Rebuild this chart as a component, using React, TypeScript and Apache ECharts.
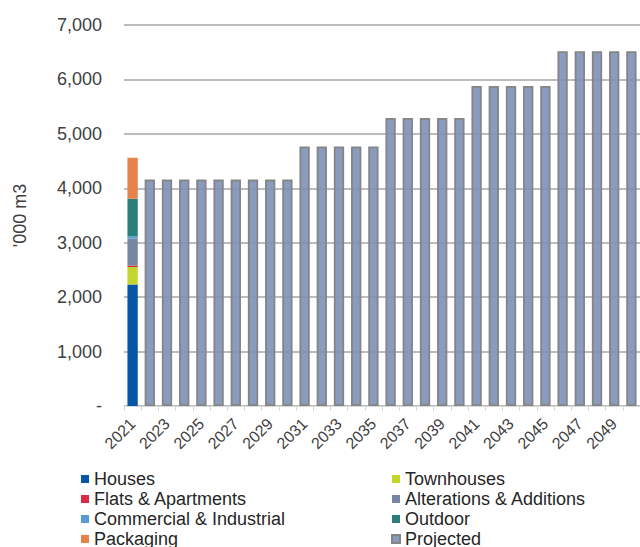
import React, { useEffect, useRef } from "react";
import * as echarts from "echarts";

const years: string[] = [];
for (let y = 2021; y <= 2050; y++) years.push(String(y));

const houses2021 = 2230;
const townhouses2021 = 325;
const flats2021 = 25;
const alterations2021 = 496;
const commercial2021 = 40;
const outdoor2021 = 691;
const packaging2021 = 755;

const projected: (number | null)[] = [
  null,
  4160, 4160, 4160, 4160, 4160, 4160, 4160, 4160, 4160,
  4770, 4770, 4770, 4770, 4770,
  5290, 5290, 5290, 5290, 5290,
  5880, 5880, 5880, 5880, 5880,
  6520, 6520, 6520, 6520, 6520,
];

const yTicks = [0, 1000, 2000, 3000, 4000, 5000, 6000, 7000];

const FONT = "'Liberation Sans', Arial, sans-serif";

const firstOnly = (v: number) => years.map((_, i) => (i === 0 ? v : null));

const stackSeries = [
  { name: "Houses", value: houses2021, color: "#0756a6" },
  { name: "Townhouses", value: townhouses2021, color: "#c3d62c" },
  { name: "Flats & Apartments", value: flats2021, color: "#dc2a45" },
  { name: "Alterations & Additions", value: alterations2021, color: "#7685a0" },
  { name: "Commercial & Industrial", value: commercial2021, color: "#5b9bd5" },
  { name: "Outdoor", value: outdoor2021, color: "#2a7f7d" },
  { name: "Packaging", value: packaging2021, color: "#e5834a" },
];

export default function App() {
  const ref = useRef<HTMLDivElement>(null);
  useEffect(() => {
    if (!ref.current) return;
    const chart = echarts.init(ref.current, null, { renderer: "svg" });
    const series: any[] = stackSeries.map((s) => ({
      name: s.name,
      type: "bar",
      stack: "total",
      barCategoryGap: "40%",
      data: firstOnly(s.value),
      itemStyle: { color: s.color },
    }));
    series.push({
      name: "Projected",
      type: "bar",
      stack: "total",
      barCategoryGap: "40%",
      data: projected,
      itemStyle: {
        color: "rgba(124,145,182,0.9)",
        borderColor: "#858585",
        borderWidth: 1.8,
      },
    });
    const legendText = { fontFamily: FONT, fontSize: 18, color: "#262626", lineHeight: 18 };
    const legendBase = {
      orient: "vertical",
      top: 470,
      height: 120,
      padding: 0,
      itemWidth: 8,
      itemHeight: 8,
      itemGap: 2,
      icon: "rect",
      textStyle: legendText,
    };
    chart.setOption({
      animation: false,
      backgroundColor: "#ffffff",
      grid: { left: 124, right: -4, top: 25, bottom: 141, containLabel: false },
      legend: [
        {
          ...legendBase,
          left: 81,
          data: ["Houses", "Flats & Apartments", "Commercial & Industrial", "Packaging"],
        },
        {
          ...legendBase,
          left: 391,
          data: ["Townhouses", "Alterations & Additions", "Outdoor", "Projected"],
        },
      ],
      xAxis: {
        type: "category",
        data: years,
        axisLine: { show: true, lineStyle: { color: "#d9d9d9", width: 1 } },
        axisTick: { show: true, interval: 0, length: 5, lineStyle: { color: "#d9d9d9" } },
        axisLabel: {
          interval: 1,
          rotate: 45,
          margin: 15,
          fontFamily: FONT,
          fontSize: 16,
          color: "#404040",
        },
      },
      yAxis: {
        type: "value",
        min: yTicks[0],
        max: yTicks[yTicks.length - 1],
        interval: 1000,
        name: "'000 m3",
        nameLocation: "middle",
        nameRotate: 90,
        nameGap: 95,
        nameTextStyle: { fontFamily: FONT, fontSize: 18, color: "#404040" },
        axisLine: { show: false },
        axisTick: { show: false },
        axisLabel: {
          margin: 22,
          fontFamily: FONT,
          fontSize: 18,
          color: "#404040",
          formatter: (v: number) => (v === 0 ? "-" : v.toLocaleString("en-US")),
        },
        splitLine: { show: true, lineStyle: { color: "#a6a6a6", width: 1.5 } },
      },
      series,
    });
    return () => chart.dispose();
  }, []);
  return (
    <div
      ref={ref}
      style={{ position: "fixed", left: 0, top: 0, width: 640, height: 547 }}
    />
  );
}
